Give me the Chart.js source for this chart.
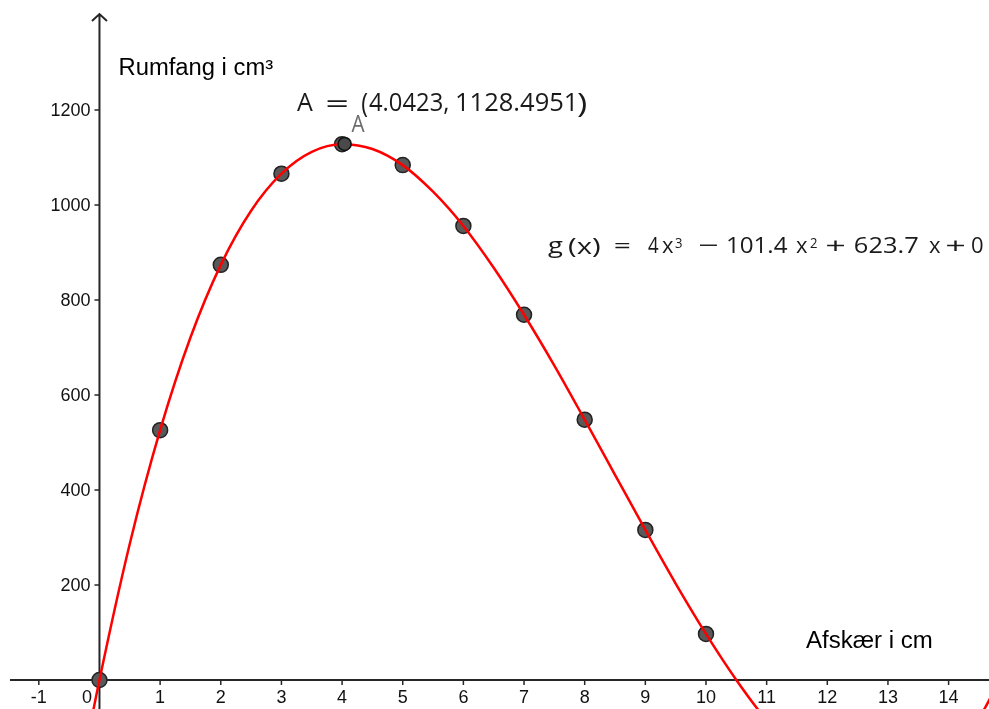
<!DOCTYPE html>
<html>
<head>
<meta charset="utf-8">
<script src="https://cdn.jsdelivr.net/npm/chart.js@4.4.0/dist/chart.umd.min.js"></script>
<style>
  html, body { margin: 0; padding: 0; background: #fff; }
  #wrap { width: 989px; height: 709px; position: relative; }
</style>
</head>
<body>
<div id="wrap"><canvas id="graf"></canvas></div>
<script>
  const xTicks = [-1, 0, 1, 2, 3, 4, 5, 6, 7, 8, 9, 10, 11, 12, 13, 14];
  const yTicks = [200, 400, 600, 800, 1000, 1200];

  const afskaer = [0, 1, 2, 3, 4, 5, 6, 7, 8, 9, 10];
  const rumfang = [0, 526, 874, 1066, 1128, 1084, 956, 769, 548, 316, 97];

  // den røde kurve g(x), aflæst i punkter
  const curveX = [-0.5, -0.25, 0, 0.5, 1, 1.5, 2, 2.5, 3, 3.5, 4, 4.5, 5, 5.5, 6, 6.5, 7, 7.5, 8, 8.5, 9, 9.5, 10, 10.5, 11, 11.5, 12, 12.5, 13, 13.5, 14, 14.5, 15];
  const curveY = [-338, -162, 0, 287, 526, 721, 874, 988, 1066, 1112, 1128, 1118, 1084, 1028, 956, 868, 769, 662, 548, 432, 316, 203, 97, 0, -85, -154, -205, -235, -240, -218, -167, -81, 40];

  const pointA = { x: 4.0423, y: 1128.4951 };

  const xTitle = "Afskær i cm";
  const yTitle = "Rumfang i cm³";

  // tekst-stykker: [tekst, venstre, højre, grundlinje, størrelse]
  const aParts = [
    ["A", 297, 313, 111, 25],
    ["=", 327, 347, 113, 25],
    ["(", 362, 368, 113, 27],
    ["4.0423,", 369, 448, 111, 25],
    ["1128.4951", 457, 573, 111, 25],
    [")", 577, 586, 113, 27]
  ];
  const gParts = [
    ["g", 548, 563, 252.5, 22],
    ["(x)", 568, 600, 253.5, 22],
    ["=", 615, 630, 253, 22],
    ["4", 648, 659, 252.5, 22],
    ["x", 662, 674, 252.5, 22],
    ["3", 675, 682, 247.5, 15],
    ["−", 700, 718, 253, 22],
    ["101.4", 727, 788, 252.5, 22],
    ["x", 796, 808, 252.5, 22],
    ["2", 810, 817, 247.5, 15],
    ["+", 827, 845, 253, 22],
    ["623.7", 855, 918, 252.5, 22],
    ["x", 929, 941, 252.5, 22],
    ["+", 947, 965, 253, 22],
    ["0", 972, 983, 252.5, 22]
  ];

  const AXIS = "#262626";
  const SANS = "'Liberation Sans', Arial, sans-serif";
  const TEX = "'Open Sans', 'DejaVu Sans', sans-serif";

  // tegner tekst så blækket fylder fra venstre til højre
  function fitText(ctx, s, left, right, base) {
    const m = ctx.measureText(s);
    const ink = m.actualBoundingBoxLeft + m.actualBoundingBoxRight;
    const sx = ink > 0 ? (right - left) / ink : 1;
    ctx.save();
    ctx.translate(left, base);
    ctx.scale(sx, 1);
    ctx.fillText(s, m.actualBoundingBoxLeft, 0);
    ctx.restore();
  }

  const axesPlugin = {
    id: "axes",
    beforeDatasetsDraw(chart) {
      const { ctx, scales: { x, y } } = chart;
      const x0 = x.getPixelForValue(0);
      const y0 = y.getPixelForValue(0);
      ctx.save();
      ctx.strokeStyle = AXIS;
      ctx.lineWidth = 2;
      // x-akse
      ctx.beginPath();
      ctx.moveTo(10, y0);
      ctx.lineTo(chart.width, y0);
      ctx.stroke();
      // y-akse med pil
      ctx.beginPath();
      ctx.moveTo(x0, chart.height);
      ctx.lineTo(x0, 14);
      ctx.moveTo(x0 - 7.5, 21);
      ctx.lineTo(x0, 14);
      ctx.lineTo(x0 + 7.5, 21);
      ctx.stroke();

      ctx.lineWidth = 1.5;
      ctx.fillStyle = "#111";
      ctx.font = "18px " + SANS;
      ctx.textBaseline = "alphabetic";
      ctx.textAlign = "center";
      xTicks.forEach((t) => {
        const px = x.getPixelForValue(t);
        ctx.beginPath();
        ctx.moveTo(px, y0);
        ctx.lineTo(px, y0 + 5);
        ctx.stroke();
        const lx = t === 0 ? px - 12.5 : px;
        ctx.fillText(String(t), lx, y0 + 23);
      });
      ctx.textAlign = "right";
      ctx.textBaseline = "middle";
      yTicks.forEach((t) => {
        const py = y.getPixelForValue(t);
        ctx.beginPath();
        ctx.moveTo(x0 - 5, py);
        ctx.lineTo(x0, py);
        ctx.stroke();
        ctx.fillText(String(t), x0 - 9, py + 1);
      });
      ctx.restore();
    },
    afterDraw(chart) {
      const { ctx } = chart;
      ctx.save();
      ctx.fillStyle = "#000";
      ctx.textAlign = "left";
      ctx.textBaseline = "alphabetic";
      ctx.font = "23px " + SANS;
      fitText(ctx, yTitle, 119.5, 273.5, 75);
      fitText(ctx, xTitle, 806, 931.5, 648);

      ctx.fillStyle = "#1a1a1a";
      aParts.concat(gParts).forEach(([s, l, r, b, size]) => {
        ctx.font = size + "px " + TEX;
        fitText(ctx, s, l, r, b);
      });

      ctx.fillStyle = "#6b6b6b";
      ctx.font = "23px " + TEX;
      fitText(ctx, "A", 351.5, 365, 132);
      ctx.restore();
    }
  };

  const pts = afskaer.map((v, i) => ({ x: v, y: rumfang[i] }));
  const curve = curveX.map((v, i) => ({ x: v, y: curveY[i] }));

  new Chart(document.getElementById("graf"), {
    type: "scatter",
    data: {
      datasets: [
        {
          label: "A",
          data: [pointA],
          pointRadius: 6.5,
          pointBackgroundColor: "#4a4a4a",
          pointBorderColor: "#111",
          pointBorderWidth: 1.5
        },
        {
          label: "g",
          data: curve,
          showLine: true,
          pointRadius: 0,
          borderColor: "#ff0000",
          borderWidth: 2.5,
          cubicInterpolationMode: "monotone"
        },
        {
          label: "målinger",
          data: pts,
          pointRadius: 7.5,
          pointBackgroundColor: "#595959",
          pointBorderColor: "#222",
          pointBorderWidth: 1.5
        }
      ]
    },
    options: {
      responsive: true,
      maintainAspectRatio: false,
      animation: false,
      layout: { padding: 0, autoPadding: false },
      plugins: { legend: { display: false }, tooltip: { enabled: false } },
      scales: {
        x: { type: "linear", min: -1.64, max: 14.666, display: false },
        y: { type: "linear", min: -61.05, max: 1431.6, display: false }
      }
    },
    plugins: [axesPlugin]
  });
</script>
</body>
</html>
